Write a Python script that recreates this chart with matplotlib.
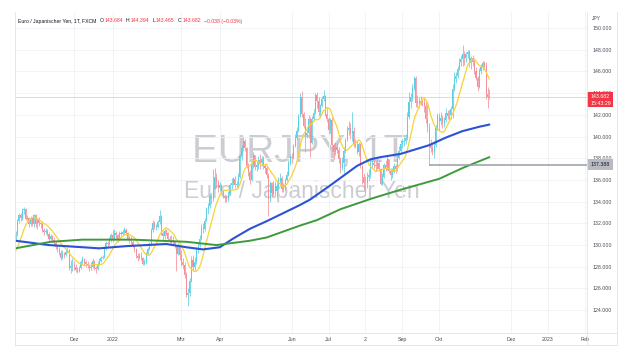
import numpy as np
import pandas as pd
import matplotlib
matplotlib.use("Agg")
import matplotlib.pyplot as plt
from matplotlib.transforms import blended_transform_factory
from matplotlib.patches import Rectangle
from matplotlib.lines import Line2D

plt.rcParams['font.family'] = ['Liberation Sans', 'DejaVu Sans']

# Tageskerzen EUR/JPY, 13.10.2021 - 14.11.2022 (Handelstage)
first_day = '2021-10-13'

# Schlusskurse vor dem sichtbaren Bereich (nur fuer den 10er-Durchschnitt)
pre_close = [129.6, 128.9, 128.4, 128.8, 128.5, 129.0, 129.6, 130.3, 130.6]

close = [
    131.0, 132.2, 132.8, 132.5, 133.2, 133.3, 132.4, 132.5, 131.9, 132.5, 131.9, 132.8, 131.9,  # Okt 21
    132.3, 132.0, 131.9, 131.4, 131.2, 131.3, 131.0, 130.6, 130.8, 130.5, 130.2, 129.8, 129.6, 129.3, 128.8,
    129.2, 129.1, 129.4, 129.5, 127.9, 128.1, 128.2,  # Nov 21
    128.0, 127.7, 127.6, 127.9, 128.4, 128.7, 128.4, 128.3, 128.2, 127.9, 128.0, 128.5, 127.9, 127.8, 128.3,
    128.5, 128.8, 128.9, 129.6, 130.2, 130.1, 130.5, 130.9,  # Dez 21
    130.6, 131.1, 130.9, 130.6, 131.1, 131.0, 131.2, 131.4, 131.1, 130.6, 130.5, 130.3, 130.0, 129.6, 129.0,
    128.8, 129.0, 128.8, 128.3, 128.4, 129.2,  # Jan 22
    129.6, 130.1, 131.4, 132.0, 131.7, 131.7, 132.1, 132.7, 131.1, 130.8, 131.3, 131.1, 130.6, 130.4, 130.5,
    130.3, 129.9, 129.2, 129.9, 129.1,  # Feb 22
    128.4, 128.2, 127.2, 125.4, 125.6, 126.7, 128.6, 128.0, 128.4, 129.5, 130.0, 130.6, 131.6, 131.5, 132.2,
    133.3, 133.6, 134.5, 134.2, 135.2, 136.3, 135.8, 135.3,  # Mrz 22
    135.5, 135.0, 134.5, 134.3, 134.2, 134.7, 135.5, 135.7, 136.1, 135.5, 135.6, 136.3, 138.2, 138.9, 139.6,
    138.9, 137.3, 136.7, 136.0, 137.4, 138.3,  # Apr 22
    137.2, 137.4, 137.8, 137.6, 137.9, 137.3, 137.1, 136.5, 134.2, 135.7, 134.8, 135.6, 135.0, 135.4, 135.9,
    136.2, 135.2, 135.3, 136.0, 136.5, 137.6, 138.1,  # Mai 22
    138.0, 139.1, 139.9, 140.5, 141.9, 143.6, 142.1, 141.0, 140.1, 140.3, 141.6, 139.4, 141.6, 142.2, 143.8,
    143.3, 142.3, 142.8, 143.5, 143.7, 142.1, 141.6,  # Jun 22
    140.6, 141.5, 139.2, 138.6, 139.0, 138.8, 137.9, 137.1, 137.6, 138.7, 139.7, 140.6, 140.8, 140.3, 140.5,
    139.3, 139.2, 138.6, 139.3, 137.3, 136.3,  # Jul 22
    135.7, 135.7, 136.3, 136.5, 137.6, 137.6, 137.4, 137.3, 137.6, 137.0, 135.6, 136.3, 137.4, 137.0, 137.9,
    136.8, 136.5, 136.7, 137.3, 137.0, 138.0, 138.7, 139.3,  # Aug 22
    139.5, 139.6, 139.9, 141.8, 143.2, 143.6, 144.5, 145.4, 143.1, 143.3, 143.1, 143.3, 143.2, 142.8, 141.6,
    140.9, 139.3, 138.9, 138.6, 139.2, 140.8, 141.9,  # Sep 22
    141.4, 141.7, 141.2, 141.5, 142.2, 141.9, 142.0, 142.5, 144.4, 145.3, 145.6, 146.2, 146.9, 147.1, 147.6,
    147.2, 147.6, 147.8, 146.8, 147.2, 146.9,  # Okt 22
    146.0, 145.4, 144.6, 146.0, 146.4, 146.8, 146.5, 143.9, 143.684, 143.682,  # Nov 22
]

high = [
    131.3, 132.4, 133.0, 133.0, 133.4, 133.5, 133.4, 132.8, 132.6, 132.7, 132.6, 132.9, 132.9,
    132.4, 132.6, 132.2, 132.0, 131.6, 131.6, 131.5, 131.2, 131.0, 130.9, 130.7, 130.4, 130.0, 129.8, 129.5,
    129.5, 129.4, 129.6, 129.8, 129.6, 128.6, 128.8,
    128.5, 128.3, 128.0, 128.1, 128.6, 129.0, 128.8, 128.6, 128.5, 128.3, 128.4, 128.8, 128.6, 128.1, 128.5,
    128.8, 129.0, 129.1, 129.8, 130.4, 130.4, 130.7, 131.1,
    131.4, 131.5, 131.3, 131.0, 131.3, 131.3, 131.5, 131.7, 131.6, 131.2, 130.8, 130.8, 130.5, 130.1, 129.7,
    129.3, 129.3, 129.4, 128.9, 128.7, 129.4,
    129.8, 130.3, 131.6, 132.3, 132.2, 131.9, 132.3, 133.2, 132.8, 131.3, 131.5, 131.5, 131.2, 130.8, 130.9,
    130.8, 130.4, 130.0, 130.2, 129.9,
    129.5, 128.8, 128.4, 127.5, 126.0, 127.0, 129.0, 129.1, 128.9, 129.8, 130.3, 130.9, 131.9, 132.0, 132.5,
    133.5, 133.9, 134.8, 134.8, 137.0, 137.1, 136.6, 136.0,
    135.8, 135.6, 135.2, 134.7, 134.6, 135.0, 135.7, 136.2, 136.3, 136.4, 135.9, 136.6, 138.4, 139.2, 140.0,
    139.8, 139.0, 137.6, 136.9, 137.7, 138.6,
    138.3, 137.7, 138.2, 138.4, 138.2, 138.2, 137.5, 137.3, 136.6, 135.9, 135.8, 135.9, 135.9, 135.8, 136.3,
    136.6, 136.4, 135.7, 136.2, 136.8, 137.8, 138.4,
    138.5, 139.3, 140.2, 140.9, 142.1, 144.0, 144.2, 142.3, 141.7, 140.9, 142.0, 141.8, 141.9, 142.5, 144.0,
    144.1, 143.6, 143.0, 143.7, 144.3, 143.8, 142.6,
    141.8, 141.7, 141.8, 139.4, 139.5, 139.4, 139.0, 138.1, 138.1, 139.0, 139.9, 141.0, 141.4, 141.2, 142.3,
    140.9, 139.8, 139.6, 139.5, 139.4, 137.5,
    136.6, 136.4, 136.7, 137.0, 137.8, 138.0, 137.9, 137.7, 138.0, 137.8, 137.1, 136.6, 137.6, 137.8, 138.2,
    137.9, 137.1, 137.1, 137.6, 137.5, 138.5, 139.1, 139.7,
    139.8, 140.0, 140.2, 142.3, 144.1, 144.0, 144.8, 145.6, 145.6, 143.8, 143.6, 143.7, 143.5, 143.6, 143.2,
    143.0, 141.2, 139.8, 139.5, 139.6, 141.1, 142.2,
    142.2, 142.3, 142.0, 141.8, 142.6, 142.4, 142.4, 142.8, 144.8, 145.9, 145.9, 146.5, 147.2, 147.5, 148.4,
    147.9, 147.8, 148.0, 148.0, 147.4, 147.5,
    147.2, 146.4, 145.6, 146.3, 146.7, 147.0, 147.0, 146.9, 144.6, 144.394,
]

low = [
    130.4, 130.8, 132.0, 132.2, 132.3, 132.9, 132.3, 132.2, 131.7, 131.8, 131.8, 131.7, 131.7,
    131.5, 131.8, 131.6, 131.2, 130.9, 131.0, 130.8, 130.4, 130.4, 130.3, 130.0, 129.6, 129.4, 129.1, 128.6,
    128.7, 128.8, 129.0, 129.3, 127.7, 127.4, 127.6,
    127.7, 127.5, 127.4, 127.5, 127.8, 128.3, 128.2, 128.0, 127.9, 127.6, 127.7, 127.9, 127.7, 127.4, 127.7,
    128.2, 128.4, 128.7, 128.8, 129.5, 129.8, 130.0, 130.3,
    130.3, 130.5, 130.6, 130.3, 130.5, 130.8, 130.9, 131.0, 130.9, 130.5, 130.2, 130.0, 129.8, 129.4, 128.8,
    128.5, 128.7, 128.6, 128.2, 128.2, 128.3,
    129.1, 129.5, 129.9, 131.2, 131.5, 131.4, 131.6, 131.9, 130.9, 130.4, 130.6, 130.9, 130.4, 130.2, 130.1,
    130.0, 129.7, 127.6, 129.1, 128.6,
    128.1, 127.8, 127.0, 125.2, 124.4, 125.3, 126.6, 127.6, 127.7, 128.3, 129.3, 129.8, 130.5, 131.1, 131.3,
    132.2, 132.9, 133.4, 133.8, 134.1, 135.2, 135.3, 134.9,
    135.0, 134.8, 134.3, 134.0, 134.0, 134.1, 134.6, 135.2, 135.5, 135.3, 135.3, 135.4, 136.2, 137.8, 138.7,
    138.7, 137.1, 136.4, 135.6, 135.9, 137.1,
    136.9, 136.8, 137.0, 137.0, 137.3, 137.0, 136.6, 136.2, 132.7, 134.0, 134.4, 134.7, 134.5, 134.4, 135.2,
    135.7, 134.9, 134.9, 135.1, 135.9, 136.4, 137.4,
    137.6, 137.9, 139.0, 139.8, 140.4, 141.8, 141.8, 140.8, 138.6, 139.9, 139.9, 138.1, 139.3, 141.4, 142.1,
    142.6, 141.9, 141.9, 142.7, 143.3, 141.9, 141.3,
    140.2, 140.3, 138.7, 137.9, 138.3, 138.5, 137.6, 136.6, 136.9, 136.6, 138.5, 139.6, 140.1, 139.8, 139.6,
    139.0, 138.9, 138.4, 138.2, 137.1, 135.6,
    135.2, 134.6, 135.3, 135.9, 136.2, 137.1, 137.1, 136.8, 137.0, 136.8, 135.5, 135.5, 136.2, 136.8, 136.9,
    136.6, 136.0, 136.2, 136.6, 136.6, 136.8, 137.9, 138.5,
    138.9, 139.1, 139.3, 139.7, 141.6, 142.6, 143.3, 144.3, 142.7, 142.7, 142.6, 142.9, 142.8, 142.3, 141.2,
    140.4, 137.388, 138.6, 138.3, 138.0, 139.0, 140.6,
    140.6, 141.1, 140.8, 140.9, 141.3, 141.6, 141.5, 141.6, 141.7, 144.2, 144.9, 145.4, 146.1, 146.5, 146.5,
    146.6, 146.9, 147.2, 146.4, 146.2, 146.5,
    145.8, 145.2, 144.2, 144.5, 145.8, 146.1, 146.2, 143.5, 142.6, 143.465,
]

# gleitende Durchschnitte 100 (blau) und 200 (gruen)
ma100_bar = [0, 20, 50, 66, 90, 102, 112, 122, 130, 140, 150, 162, 170, 176, 188, 204, 212, 218, 230,
             247, 257, 267, 277, 283]
ma100_val = [130.4, 130.0, 129.7, 129.9, 130.1, 129.8, 129.6, 129.8, 130.6, 131.5, 132.2, 133.1, 133.7,
             134.2, 135.5, 137.3, 137.9, 138.1, 138.4, 139.2, 139.9, 140.5, 140.9, 141.1]
ma200_bar = [0, 21, 40, 70, 102, 120, 130, 140, 150, 170, 180, 194, 213, 230, 253, 267, 283]
ma200_val = [129.7, 130.3, 130.5, 130.5, 130.3, 130.0, 130.2, 130.4, 130.7, 131.8, 132.3, 133.3, 134.3,
             135.1, 136.1, 137.1, 138.1]

tick_dates = ['2021-12-01', '2022-01-03', '2022-03-01', '2022-04-01', '2022-06-01', '2022-07-01',
              '2022-08-02', '2022-09-01', '2022-10-03', '2022-12-01', '2023-01-02', '2023-02-01']
tick_labels = ['Dez', '2022', 'Mrz', 'Apr', 'Jun', 'Jul', '2', 'Sep', 'Okt', 'Dez', '2023', 'Feb']

low_mark = 137.388
last_price = 143.682

assert len(close) == len(high) == len(low)

# --- Aufbereitung ---
c = np.array(close)
o = np.r_[pre_close[-1], c[:-1]]
h = np.maximum(np.array(high), np.maximum(o, c))
l = np.minimum(np.array(low), np.minimum(o, c))
x = np.arange(len(c))
ma10 = pd.Series(pre_close + close).rolling(10).mean().to_numpy()[len(pre_close):]

days = pd.bdate_range(first_day, '2023-02-28')
tick_pos = days.get_indexer(pd.to_datetime(tick_dates))

UP, DOWN = '#5ccfe2', '#f3919a'
cols = np.where(c >= o, UP, DOWN)

W, H = 630, 354
fig = plt.figure(figsize=(W / 100, H / 100), dpi=100)
fig.patch.set_facecolor('white')
ax = fig.add_axes([15 / W, 21 / H, 572 / W, 321 / H])
ax.set_xlim(-0.3, 341.3)
ax.set_ylim(121.9, 151.47)
for s in ax.spines.values():
    s.set_visible(False)

# Raster
ax.set_yticks(np.arange(124, 151, 2))
ax.set_yticklabels([f'{v:.3f}' for v in np.arange(124, 151, 2)])
ax.yaxis.tick_right()
ax.tick_params(axis='y', length=0, pad=4, labelsize=3.8, labelcolor='#4a4d57')
ax.set_xticks(tick_pos)
ax.set_xticklabels(tick_labels)
ax.tick_params(axis='x', length=0, pad=3.2, labelsize=3.8, labelcolor='#4a4d57')
ax.grid(True, color='#f0f1f5', lw=0.6)
ax.set_axisbelow(True)

# Wasserzeichen
ax.text(0.498, 0.565, 'EURJPY, 1T', transform=ax.transAxes, ha='center', va='center',
        fontsize=28, color='#a9acb5', alpha=0.6, zorder=0.5)
ax.text(0.502, 0.44, 'Euro / Japanischer Yen', transform=ax.transAxes, ha='center', va='center',
        fontsize=16.5, color='#a9acb5', alpha=0.6, zorder=0.5)

# Kerzen
ax.vlines(x, l, h, colors=cols, lw=0.55, zorder=2)
body = np.maximum(np.abs(c - o), 0.04)
ax.bar(x, body, bottom=np.minimum(o, c), width=0.62, color=cols, lw=0, zorder=2)

# Durchschnitte
ax.plot(x, ma10, color='#f7d23a', lw=0.9, zorder=3)
ax.plot(ma100_bar, ma100_val, color='#2c52d6', lw=1.5, zorder=3, solid_capstyle='round')
ax.plot(ma200_bar, ma200_val, color='#3d9b3d', lw=1.4, zorder=3, solid_capstyle='round')

# Preislinien
ax.axhline(last_price, color='#f23645', lw=0.5, alpha=0.35, zorder=1)
lo_idx = int(np.flatnonzero(np.isclose(l, low_mark))[0])
ax.hlines(low_mark, lo_idx, 341.3, color='#9a9ca6', lw=1.1, zorder=3)

tr = blended_transform_factory(ax.transAxes, ax.transData)
bw = 26 / 572
ax.add_patch(Rectangle((1.0, last_price - 0.92), bw, 1.38, transform=tr, facecolor='#f23645',
                       edgecolor='none', clip_on=False, zorder=5))
ax.text(1.0 + 4 / 572, last_price, f'{last_price:.3f}', transform=tr, ha='left', va='center',
        fontsize=3.8, color='white', clip_on=False, zorder=6)
ax.text(1.0 + 4 / 572, last_price - 0.6, '15:43:29', transform=tr, ha='left', va='center',
        fontsize=3.8, color='white', clip_on=False, zorder=6)
ax.add_patch(Rectangle((1.0, low_mark - 0.5), bw, 1.0, transform=tr, facecolor='#b8bac2',
                       edgecolor='none', clip_on=False, zorder=5))
ax.text(1.0 + 4 / 572, low_mark, f'{low_mark:.3f}', transform=tr, ha='left', va='center',
        fontsize=3.8, color='#131722', clip_on=False, zorder=6)

fig.text(592 / W, 1 - 19 / H, 'JPY', fontsize=3.6, color='#4a4d57', va='center', ha='left')

# Rahmen
lc = '#e0e3eb'
fig.add_artist(Line2D([15 / W, 617 / W], [1 - 345 / H] * 2, color=lc, lw=0.6))
fig.add_artist(Line2D([15 / W, 617 / W], [1 - 333 / H] * 2, color=lc, lw=0.6))
fig.add_artist(Line2D([15 / W, 15 / W], [1 - 345 / H, 1 - 12 / H], color=lc, lw=0.6))
fig.add_artist(Line2D([587 / W, 587 / W], [1 - 345 / H, 1 - 12 / H], color=lc, lw=0.6))
fig.add_artist(Line2D([617 / W, 617 / W], [1 - 345 / H, 1 - 12 / H], color=lc, lw=0.6))

# Titelzeile
RED, DARK = '#f23645', '#131722'
parts = [('Euro / Japanischer Yen, 1T, FXCM', DARK, 3.0), ('O', DARK, 1.0), ('143.684', RED, 3.0),
         ('H', DARK, 1.0), ('144.394', RED, 3.0), ('L', DARK, 1.0), ('143.465', RED, 3.0),
         ('C', DARK, 1.0), ('143.682', RED, 3.5), ('\u22120.038 (\u22120.03%)', RED, 0)]
renderer = fig.canvas.get_renderer()
px = 18
for txt, col, gap in parts:
    t = fig.text(px / W, 1 - 21 / H, txt, fontsize=3.7, color=col, va='center', ha='left')
    px = t.get_window_extent(renderer).x1 + gap

fig.savefig('out.png', dpi=100, facecolor='white')
